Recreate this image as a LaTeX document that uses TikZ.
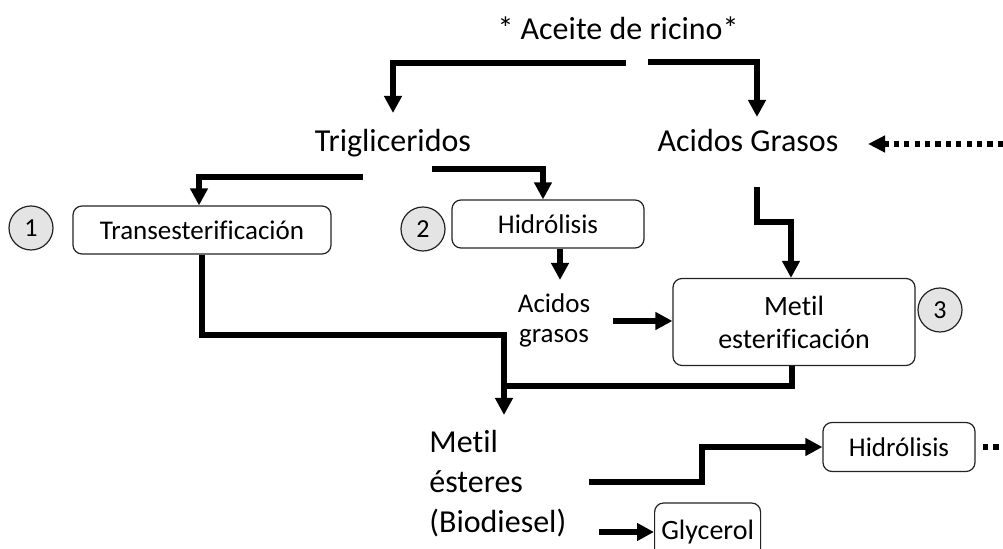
\documentclass[tikz,border=0pt]{standalone}
\usepackage{fontspec}
\setmainfont[Ligatures={NoCommon}]{Carlito}
\usetikzlibrary{arrows.meta, positioning, calc}
\definecolor{circlegray}{RGB}{228,228,228}
\definecolor{boxline}{RGB}{35,35,35}

\begin{document}
\begin{tikzpicture}[
        x=0.5pt, y=-0.5pt,
        flow/.style={line width=2.6pt, -{Triangle[length=8.5pt,width=8.5pt]}},
        plain/.style={line width=2.6pt},
        dots/.style={line width=2.6pt, dash pattern=on 2.6pt off 2.6pt},
        procbox/.style={draw=boxline, line width=0.6pt, rounded corners=4.5pt, align=center, inner sep=0pt, font=\fontsize{13.5}{16.5}\selectfont},
        stepnum/.style={circle, draw=boxline, line width=0.6pt, fill=circlegray, minimum size=22pt, inner sep=0pt, font=\fontsize{13}{15}\selectfont},
        bigtext/.style={font=\fontsize{16}{20}\selectfont},
        midtext/.style={font=\fontsize{13.5}{15}\selectfont}
    ]
        \useasboundingbox (0,0) rectangle (1003,549);

        % products and process steps
        \node[bigtext, anchor=base] (ricino) at (618,40) {* Aceite de ricino*};
        \node[bigtext, anchor=base] (trig) at (393,152) {Trigliceridos};
        \node[bigtext, anchor=base] (acgr) at (748,152) {Acidos Grasos};
        \node[procbox, minimum width=129pt, minimum height=24pt] (trans) at (202,230) {Transesterificación};
        \node[procbox, minimum width=96pt, minimum height=24pt] (hidro) at (548,224) {Hidrólisis};
        \node[stepnum] (uno) at (31,228) {1};
        \node[stepnum] (dos) at (423,229) {2};
        \node[midtext, align=center, anchor=base] (acgrasos) at (554,343) {Acidos\\grasos};
        \node[procbox, minimum width=121pt, minimum height=43.5pt, font=\fontsize{14}{16.5}\selectfont] (metil) at (794,322) {Metil\\esterificación};
        \node[stepnum] (tres) at (940,310) {3};
        \node[bigtext, align=left, anchor=base west, inner sep=0pt] (ester) at (429,533) {Metil\\ésteres\\(Biodiesel)};
        \node[procbox, minimum width=76pt, minimum height=24.5pt] (hidrob) at (899,447) {Hidrólisis};
        \node[procbox, minimum width=53pt, minimum height=29pt, anchor=west, font=\fontsize{14}{16}\selectfont] (glyc) at (654,532) {Glycerol};

        % free ends of the connectors
        \coordinate (ricL) at (626,63);
        \coordinate (ricR) at (648,62);
        \coordinate (trigL) at (363,177);
        \coordinate (trigR) at (432,169);
        \coordinate (acgrB) at (757,187);
        \coordinate (join) at (504,335);
        \coordinate (esterIn) at (504,415);
        \coordinate (esterOut) at (589,482);
        \coordinate (glycIn) at (599,532);
        \coordinate (acgrasosOut) at (613,321);
        \coordinate (dotsIn) at (1003,144);
        \coordinate (dotsOut) at (983,447);

        \draw[flow] (ricL) -| (trig.north |- 0,113);
        \draw[flow] (ricR) -| (757,117);
        \draw[flow] (trigL) -| (trans.north -| 199,0);
        \draw[flow] (trigR) -| (hidro.north -| 543,0);
        \draw[flow] (hidro.south -| 560,0) -- (560,280);
        \draw[flow] (acgrB) |- (791,222) -- (metil.north -| 791,0);
        \draw[flow] (acgrasosOut) -- (metil.west |- acgrasosOut);
        \draw[flow] (trans.south) |- (join) -- (esterIn);
        \draw[plain] (metil.south -| 792,0) |- (join |- 0,386);
        \draw[flow] (esterOut) -| (702,447) -- (hidrob.west);
        \draw[flow] (glycIn) -- (glyc.west);
        \draw[dots, -{Triangle[length=8.5pt,width=8pt]}] (dotsIn) -- (868,144);
        \draw[dots] (dotsOut) -- (1003,447);
    \end{tikzpicture}
\end{document}
